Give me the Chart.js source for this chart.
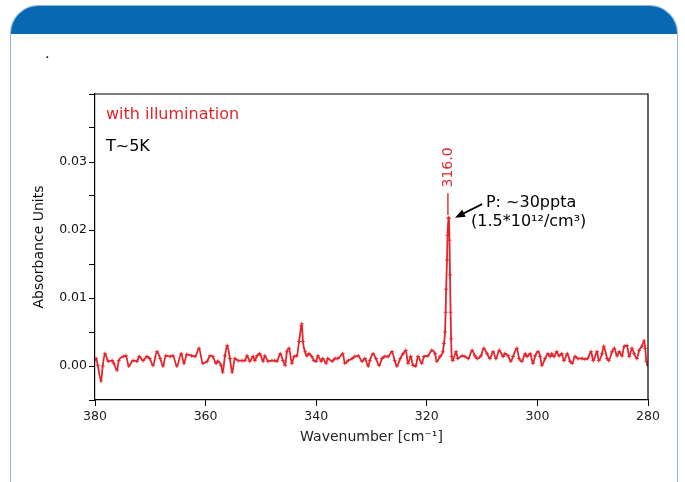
<!doctype html>
<html lang="en">
<head>
    <meta charset="utf-8">
    <title>Absorbance spectrum</title>
    <script src="https://cdn.jsdelivr.net/npm/chart.js@4.4.0/dist/chart.umd.min.js"></script>
</head>
<style>
    body{
        margin: 0;
        background: #fff;
        font-family: 'DejaVu Sans', sans-serif;
    }
    .panel{
        position: absolute;
        left: 10px;
        top: 5px;
        width: 668px;
        height: 510px;
        box-sizing: border-box;
        border: 1px solid #8fb8dc;
        border-radius: 28px;
        overflow: hidden;
        background: #fff;
    }
    .panel .head{
        height: 28px;
        background: #0669b2;
    }
    .dot{
        position: absolute;
        left: 45px;
        top: 46px;
        font-size: 14px;
        line-height: 14px;
        color: #000;
    }
    #chart{
        position: absolute;
        left: 0;
        top: 0;
    }
</style>
<body>
    <div class="panel"><div class="head"></div></div>
    <div class="dot">.</div>
    <canvas id="chart" width="685" height="482"></canvas>

  <script>
        // spectrum (cm-1, absorbance units)
        const wavenumbers = [
            380.0, 379.8, 379.5, 378.9, 378.6, 378.2, 377.6, 376.9, 376.6, 376.0,
            375.7, 374.9, 374.4, 373.9, 373.1, 372.4, 372.0, 371.3, 370.6, 370.1,
            369.5, 368.8, 368.2, 367.7, 367.2, 366.4, 365.9, 365.2, 364.4, 363.9,
            363.4, 362.5, 361.9, 361.2, 360.5, 359.7, 359.2, 358.7, 358.1, 357.8,
            357.2, 356.9, 356.5, 356.1, 355.6, 355.2, 354.7, 354.1, 353.4, 352.9,
            352.5, 352.0, 351.4, 351.1, 350.7, 350.2, 349.6, 349.3, 348.7, 348.0,
            347.5, 347.1, 346.5, 346.0, 345.6, 345.3, 344.9, 344.4, 344.0, 343.5,
            343.1, 342.7, 342.6, 342.4, 342.0, 341.7, 341.3, 340.8, 340.4, 340.0,
            339.7, 339.1, 338.8, 338.2, 337.9, 337.1, 336.6, 336.1, 335.2, 334.8,
            334.2, 333.5, 333.0, 332.4, 331.7, 331.2, 330.6, 330.3, 329.7, 329.2,
            328.6, 328.1, 327.6, 327.0, 326.3, 325.8, 325.4, 324.8, 324.3, 323.8,
            323.4, 322.9, 322.5, 322.0, 321.6, 320.9, 320.5, 319.8, 319.1, 318.5,
            318.2, 317.6, 317.1, 316.9, 316.7, 316.6, 316.5, 316.35, 316.25, 316.1,
            316.0, 315.9, 315.8, 315.7, 315.6, 315.5, 315.3, 314.7, 314.4, 313.6,
            313.1, 312.5, 311.8, 311.3, 310.9, 310.2, 309.7, 309.1, 308.6, 308.0,
            307.5, 306.9, 306.2, 305.9, 305.3, 304.8, 304.4, 303.7, 303.3, 302.8,
            302.2, 301.9, 301.3, 300.8, 300.4, 299.9, 299.5, 299.2, 298.6, 298.1,
            297.7, 297.4, 297.0, 296.5, 296.1, 295.6, 295.2, 294.6, 294.1, 293.7,
            293.2, 292.7, 291.9, 291.4, 290.9, 290.3, 289.9, 289.2, 288.9, 288.3,
            288.0, 287.4, 287.1, 286.5, 286.1, 285.6, 285.2, 284.7, 284.3, 283.8,
            283.4, 282.9, 282.5, 282.0, 281.6, 281.1, 280.7, 280.5, 280.3, 280.0
        ];
        const absorbance = [
            0.0008, 0.0011, 0.0001, -0.0022, 0.0000, 0.0018, 0.0007, 0.0008, 0.0004, -0.0006,
            0.0008, 0.0014, 0.0015, 0.0000, 0.0008, 0.0007, 0.0014, 0.0008, 0.0014, 0.0011,
            0.0001, 0.0021, 0.0011, 0.0000, 0.0015, 0.0014, 0.0015, 0.0000, 0.0018, 0.0004,
            0.0017, 0.0015, 0.0014, 0.0026, 0.0004, 0.0007, 0.0015, 0.0014, 0.0004, 0.0007,
            0.0001, -0.0009, 0.0015, 0.0030, 0.0011, -0.0009, 0.0011, 0.0008, 0.0008, 0.0008,
            0.0015, 0.0007, 0.0014, 0.0008, 0.0015, 0.0018, 0.0007, 0.0015, 0.0007, 0.0008,
            0.0008, 0.0007, 0.0018, 0.0008, 0.0001, 0.0021, 0.0026, 0.0004, 0.0014, 0.0015,
            0.0036, 0.0059, 0.0062, 0.0036, 0.0021, 0.0015, 0.0018, 0.0014, 0.0008, 0.0007,
            0.0015, 0.0007, 0.0011, 0.0004, 0.0011, 0.0007, 0.0011, 0.0011, 0.0018, 0.0004,
            0.0008, 0.0011, 0.0014, 0.0015, 0.0007, 0.0011, 0.0000, 0.0008, 0.0018, 0.0011,
            0.0001, 0.0011, 0.0014, 0.0014, 0.0021, 0.0008, 0.0000, 0.0011, 0.0018, 0.0023,
            0.0004, 0.0014, 0.0001, 0.0000, 0.0014, 0.0004, 0.0014, 0.0015, 0.0023, 0.0018,
            0.0007, 0.0014, 0.0021, 0.0033, 0.0050, 0.0079, 0.0113, 0.0156, 0.0192, 0.0218,
            0.0217, 0.0185, 0.0134, 0.0079, 0.0040, 0.0014, 0.0008, 0.0021, 0.0011, 0.0015,
            0.0014, 0.0011, 0.0023, 0.0015, 0.0011, 0.0015, 0.0026, 0.0018, 0.0011, 0.0021,
            0.0011, 0.0023, 0.0014, 0.0018, 0.0015, 0.0007, 0.0014, 0.0026, 0.0011, 0.0007,
            0.0018, 0.0014, 0.0018, 0.0004, 0.0015, 0.0021, 0.0014, 0.0001, 0.0011, 0.0018,
            0.0014, 0.0018, 0.0014, 0.0021, 0.0015, 0.0018, 0.0008, 0.0018, 0.0007, 0.0004,
            0.0014, 0.0011, 0.0011, 0.0010, 0.0011, 0.0021, 0.0008, 0.0021, 0.0008, 0.0018,
            0.0029, 0.0011, 0.0008, 0.0021, 0.0026, 0.0015, 0.0021, 0.0015, 0.0029, 0.0030,
            0.0014, 0.0026, 0.0018, 0.0011, 0.0023, 0.0029, 0.0037, 0.0026, 0.0007, 0.0001
        ];

        const xTicks = [380, 360, 340, 320, 300, 280];
        const yTicks = [-0.005, 0, 0.005, 0.01, 0.015, 0.02, 0.025, 0.03, 0.035, 0.04];
        const yLabelled = [0, 0.01, 0.02, 0.03];

        const peakPos = 316.0;
        const peakLabel = "316.0";
        const noteLines = ["P: ~30ppta", "(1.5*10¹²/cm³)"];

        const red = '#e3262c';
        const tickFont = {family: 'DejaVu Sans', size: 12.5};

        let points = wavenumbers.map((w, i) => ({x: w, y: absorbance[i]}));

        // frame + annotations
        let extras = {
            id: 'extras',
            afterDraw: (chart) => {
                let ctx = chart.ctx;
                let a = chart.chartArea;
                let sx = chart.scales.x, sy = chart.scales.y;
                let px = v => sx.getPixelForValue(v);
                let py = v => sy.getPixelForValue(v);

                ctx.save();
                ctx.strokeStyle = '#000';
                ctx.lineWidth = 1.2;
                ctx.beginPath();
                ctx.moveTo(a.left, a.top);
                ctx.lineTo(a.right, a.top);
                ctx.lineTo(a.right, a.bottom);
                ctx.stroke();

                ctx.textBaseline = 'middle';
                ctx.font = '16px "DejaVu Sans"';
                ctx.fillStyle = red;
                ctx.fillText('with illumination', a.left + 11, a.top + 21);
                ctx.fillStyle = '#000';
                ctx.fillText('T~5K', a.left + 11, a.top + 53);

                // peak marker and its label
                ctx.strokeStyle = red;
                ctx.lineWidth = 1.4;
                ctx.beginPath();
                ctx.moveTo(px(peakPos) - 1, py(0.0222));
                ctx.lineTo(px(peakPos) - 1, py(0.0254));
                ctx.stroke();

                ctx.save();
                ctx.translate(px(peakPos) - 1, py(0.0292));
                ctx.rotate(-Math.PI / 2);
                ctx.textAlign = 'center';
                ctx.font = '14px "DejaVu Sans"';
                ctx.fillStyle = red;
                ctx.fillText(peakLabel, 0, 0);
                ctx.restore();

                // arrow
                let x0 = px(310.0), y0 = py(0.0238);
                let x1 = px(314.9), y1 = py(0.0218);
                let ang = Math.atan2(y1 - y0, x1 - x0);
                ctx.strokeStyle = '#000';
                ctx.fillStyle = '#000';
                ctx.lineWidth = 1.8;
                ctx.beginPath();
                ctx.moveTo(x0, y0);
                ctx.lineTo(x1 - 6 * Math.cos(ang), y1 - 6 * Math.sin(ang));
                ctx.stroke();
                ctx.beginPath();
                ctx.moveTo(x1, y1);
                ctx.lineTo(x1 - 10 * Math.cos(ang) + 4 * Math.sin(ang), y1 - 10 * Math.sin(ang) - 4 * Math.cos(ang));
                ctx.lineTo(x1 - 10 * Math.cos(ang) - 4 * Math.sin(ang), y1 - 10 * Math.sin(ang) + 4 * Math.cos(ang));
                ctx.closePath();
                ctx.fill();

                ctx.font = '16px "DejaVu Sans"';
                ctx.fillText(noteLines[0], px(309.3), py(0.0240));
                ctx.fillText(noteLines[1], px(312.0), py(0.0212));
                ctx.restore();
            }
        };

        new Chart(document.getElementById('chart'), {
            type: 'line',
            data: {
                datasets: [{
                    label: 'with illumination',
                    data: points,
                    borderColor: red,
                    backgroundColor: red,
                    borderWidth: 1.8,
                    cubicInterpolationMode: 'monotone',
                    pointStyle: 'cross',
                    pointRadius: 2,
                    pointBorderWidth: 0.9,
                    pointBorderColor: red
                }]
            },
            options: {
                responsive: false,
                animation: false,
                layout: {padding: {top: 94, right: 37, left: 0, bottom: 0}},
                plugins: {legend: {display: false}, tooltip: {enabled: false}},
                scales: {
                    x: {
                        type: 'linear',
                        min: 280,
                        max: 380,
                        reverse: true,
                        afterBuildTicks: (s) => { s.ticks = xTicks.map(v => ({value: v})); },
                        afterFit: (s) => { s.height = 82; },
                        ticks: {color: '#222', font: tickFont, padding: 3, maxRotation: 0, autoSkip: false},
                        grid: {drawOnChartArea: false, drawTicks: true, tickLength: 6, color: '#000'},
                        border: {display: true, color: '#000', width: 1.2},
                        title: {
                            display: true,
                            text: 'Wavenumber [cm⁻¹]',
                            color: '#222',
                            font: {family: 'DejaVu Sans', size: 14},
                            padding: {top: 0, bottom: 36}
                        }
                    },
                    y: {
                        min: -0.005,
                        max: 0.04,
                        afterBuildTicks: (s) => { s.ticks = yTicks.map(v => ({value: v})); },
                        afterFit: (s) => { s.width = 95; },
                        ticks: {
                            color: '#111',
                            font: tickFont,
                            padding: 2,
                            autoSkip: false,
                            callback: (v) => yLabelled.some(t => Math.abs(t - v) < 1e-9) ? v.toFixed(2) : ''
                        },
                        grid: {drawOnChartArea: false, drawTicks: true, tickLength: 6, color: '#000'},
                        border: {display: true, color: '#000', width: 1.2},
                        title: {
                            display: true,
                            text: 'Absorbance Units',
                            color: '#111',
                            font: {family: 'DejaVu Sans', size: 14},
                            padding: {top: 31, bottom: 0}
                        }
                    }
                }
            },
            plugins: [extras]
        });
  </script>
</body>
</html>
